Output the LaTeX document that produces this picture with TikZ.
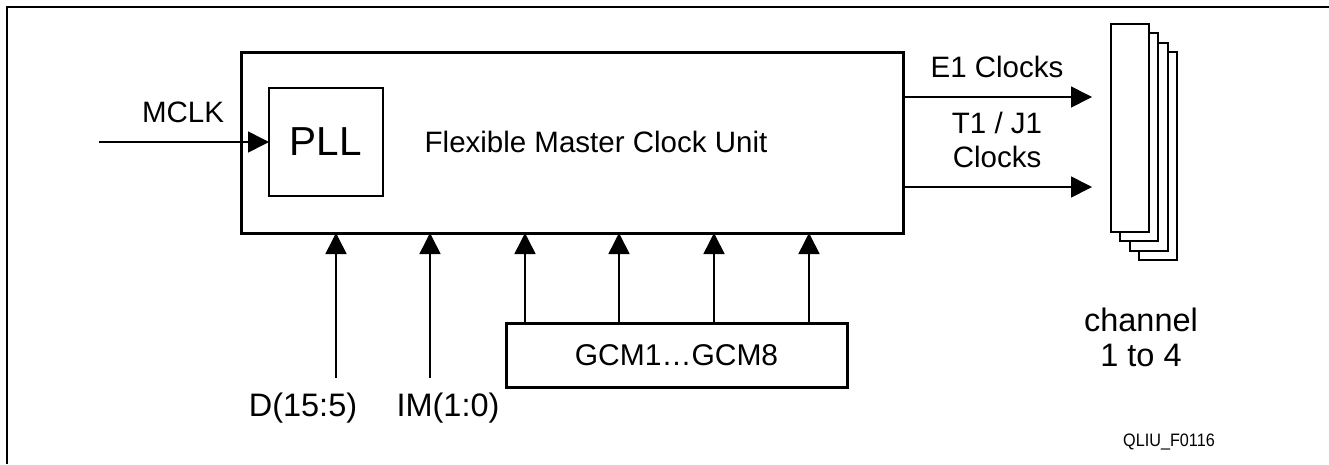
\documentclass[tikz,border=0pt]{standalone}
\usepackage{fontspec}
\setmainfont{Liberation Sans}
\usetikzlibrary{arrows.meta}
\tikzset{
  box/.style={draw, line width=#1, fill=white, inner sep=0pt, outer sep=0pt},
  box/.default=2pt,
  arr/.style={line width=1.6pt, -{Triangle[length=21pt,width=21pt]}},
  lbl/.style={inner sep=0pt, align=center, font=\fontsize{29.5}{34}\selectfont},
  biglbl/.style={inner sep=0pt, align=center, font=\fontsize{32.5}{35}\selectfont},
  chan/.style={draw, line width=2pt, fill=white}
}
\begin{document}
\begin{tikzpicture}[x=1pt,y=-1pt]
\useasboundingbox (0,0) rectangle (1329,464);
% outer frame (only top and left edges visible)
\draw[line width=2pt] (7,464) -- (7,7) -- (1329,7);
% main unit
\node[box=3pt, minimum width=662pt, minimum height=181pt] (main) at (572,142.5) {};
\node[box=2pt, minimum width=114pt, minimum height=108pt, font=\fontsize{40.5}{42}\selectfont] (pll) at (326,142) {PLL};
\node[lbl] (flex) at (596,142) {Flexible Master Clock Unit};
% MCLK
\coordinate (mclk) at (99,142);
\draw[arr] (mclk) -- (pll.west);
\node[lbl] (mclklbl) at (183,112) {MCLK};
% outputs
\coordinate (e1s) at (903,97);
\coordinate (e1e) at (1092,97);
\coordinate (t1s) at (903,187);
\coordinate (t1e) at (1092,187);
\draw[arr] (e1s) -- (e1e);
\draw[arr] (t1s) -- (t1e);
\node[lbl] (e1lbl) at (997,67) {E1 Clocks};
\node[lbl] (t1lbl) at (997,140) {T1 / J1\\Clocks};
% channel stack
\foreach \i in {3,2,1,0}{
  \draw[chan] ({1111+9.33*\i},{24+9.33*\i}) rectangle ({1149+9.33*\i},{232+9.33*\i});
}
\node[biglbl] (chlbl) at (1141,337) {channel\\1 to 4};
% D and IM inputs
\coordinate (d) at (336,378);
\coordinate (im) at (430,378);
\draw[arr] (d) -- (d |- main.south);
\draw[arr] (im) -- (im |- main.south);
\node[biglbl] (dlbl) at (303,408) {D(15:5)};
\node[biglbl] (imlbl) at (448,408) {IM(1:0)};
% GCM block
\node[box=3pt, minimum width=341pt, minimum height=64pt, lbl, font=\fontsize{30}{34}\selectfont] (gcm) at (676.5,355) {GCM1\ldots GCM8};
\foreach \x [count=\k] in {525,619,714,809}{
  \coordinate (g\k) at (\x,323);
  \draw[arr] (g\k) -- (g\k |- main.south);
}
% figure id
\node[inner sep=0pt, font=\fontsize{18}{20}\selectfont, xscale=0.9] (fid) at (1169,442) {QLIU\_F0116};
\end{tikzpicture}
\end{document}
